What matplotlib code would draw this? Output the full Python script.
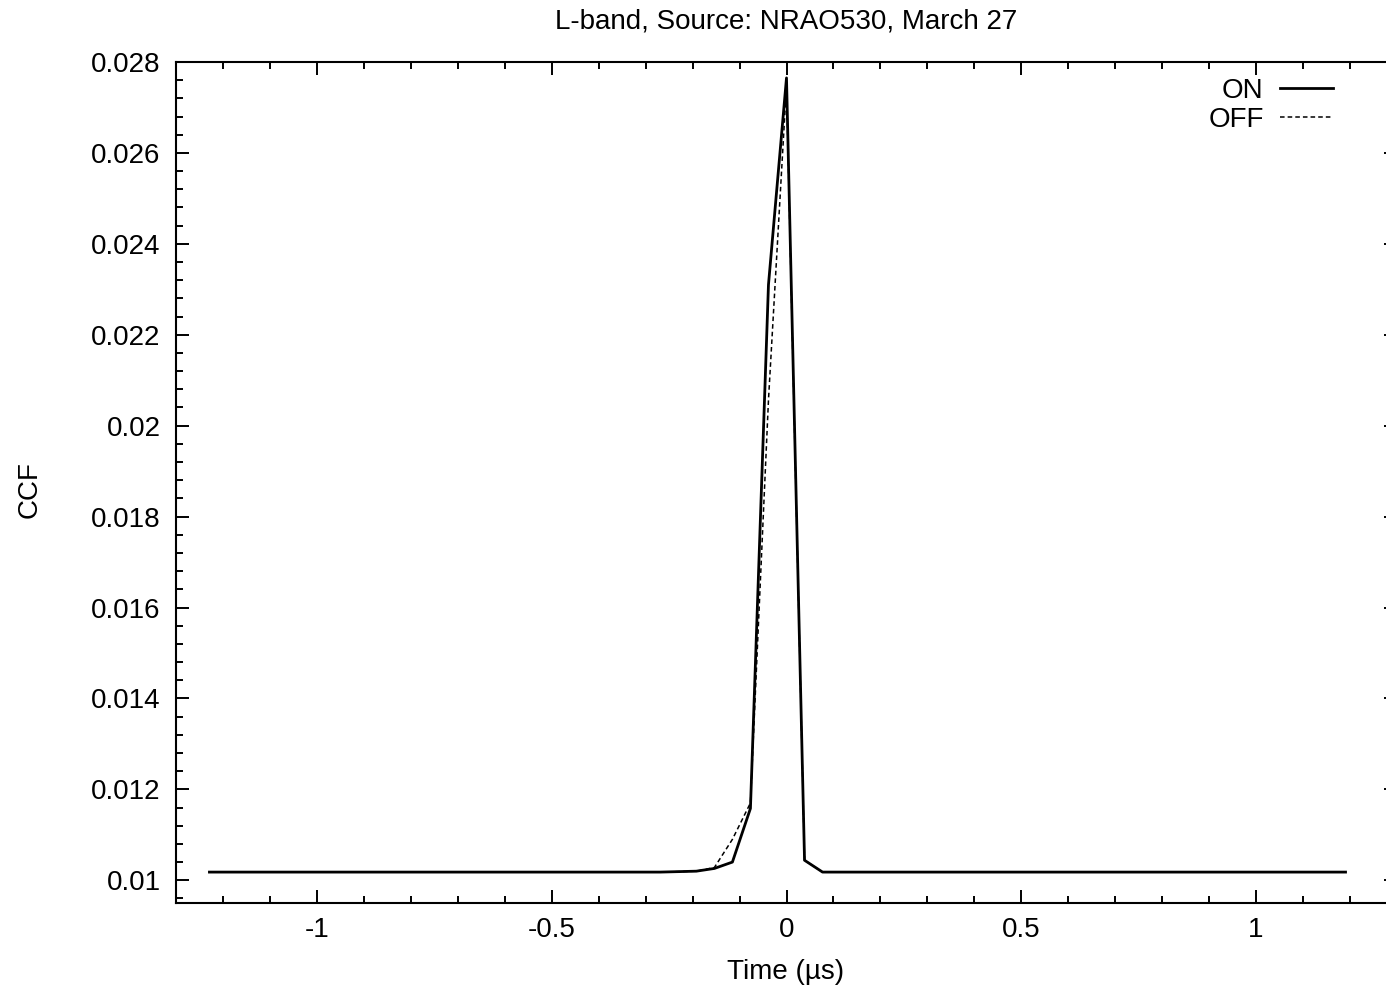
import numpy as np
import matplotlib
matplotlib.use("Agg")
import matplotlib.pyplot as plt
from matplotlib.ticker import MultipleLocator

plt.rcParams['font.family'] = ['Liberation Sans', 'DejaVu Sans']

# Lag index (64 lags) and lag step in microseconds
lag_index = np.arange(-32, 32)
lag_step_us = 0.0384

on_ccf = [
    0.01018, 0.01018, 0.01018, 0.01018, 0.01018, 0.01018, 0.01018, 0.01018,
    0.01018, 0.01018, 0.01018, 0.01018, 0.01018, 0.01018, 0.01018, 0.01018,
    0.01018, 0.01018, 0.01018, 0.01018, 0.01018, 0.01018, 0.01018, 0.01018,
    0.01018, 0.01018, 0.01019, 0.01020, 0.01026, 0.01040, 0.01158, 0.02310,
    0.02765, 0.01044, 0.01018, 0.01018, 0.01018, 0.01018, 0.01018, 0.01018,
    0.01018, 0.01018, 0.01018, 0.01018, 0.01018, 0.01018, 0.01018, 0.01018,
    0.01018, 0.01018, 0.01018, 0.01018, 0.01018, 0.01018, 0.01018, 0.01018,
    0.01018, 0.01018, 0.01018, 0.01018, 0.01018, 0.01018, 0.01018, 0.01018,
]
off_ccf = [
    0.01018, 0.01018, 0.01018, 0.01018, 0.01018, 0.01018, 0.01018, 0.01018,
    0.01018, 0.01018, 0.01018, 0.01018, 0.01018, 0.01018, 0.01018, 0.01018,
    0.01018, 0.01018, 0.01018, 0.01018, 0.01018, 0.01018, 0.01018, 0.01018,
    0.01018, 0.01018, 0.01019, 0.01020, 0.01028, 0.01090, 0.01170, 0.02056,
    0.02750, 0.01044, 0.01018, 0.01018, 0.01018, 0.01018, 0.01018, 0.01018,
    0.01018, 0.01018, 0.01018, 0.01018, 0.01018, 0.01018, 0.01018, 0.01018,
    0.01018, 0.01018, 0.01018, 0.01018, 0.01018, 0.01018, 0.01018, 0.01018,
    0.01018, 0.01018, 0.01018, 0.01018, 0.01018, 0.01018, 0.01018, 0.01018,
]

title = "L-band, Source: NRAO530, March 27"
xlabel = "Time (\u00b5s)"
ylabel = "CCF"

time_us = lag_index * lag_step_us

W, H = 1386, 991
fig = plt.figure(figsize=(W / 100, H / 100), dpi=100)
ax = fig.add_axes([176 / W, 1 - 903 / H, (1397 - 176) / W, (903 - 62) / H])

fs = 20
ax.plot(time_us, on_ccf, color='black', lw=2.0, label='ON', zorder=3)
ax.plot(time_us, off_ccf, color='black', lw=1.1, ls=(0, (3, 2)), label='OFF', zorder=2)

ax.set_xlim(-1.3, 1.3)
ax.set_ylim(0.0095, 0.028)
ax.xaxis.set_major_locator(MultipleLocator(0.5))
ax.xaxis.set_minor_locator(MultipleLocator(0.1))
ax.yaxis.set_major_locator(MultipleLocator(0.002))
ax.yaxis.set_minor_locator(MultipleLocator(0.0004))
ax.xaxis.set_major_formatter(plt.FuncFormatter(lambda v, p: ('%g' % v)))
ax.yaxis.set_major_formatter(plt.FuncFormatter(lambda v, p: ('%g' % round(v, 6))))

ax.tick_params(which='both', direction='in', top=True, right=True, width=1.4, labelsize=fs)
ax.tick_params(which='major', length=9.4)
ax.tick_params(which='minor', length=4.7)
ax.tick_params(axis='y', which='major', pad=11)
ax.tick_params(axis='x', which='major', pad=10)
for s in ax.spines.values():
    s.set_linewidth(1.5)

fig.text(786 / W, 1 - 21 / H, title, ha='center', va='center', fontsize=fs)
fig.text(786 / W, 1 - 972 / H, xlabel, ha='center', va='center', fontsize=fs)
fig.text(30 / W, 1 - 490 / H, ylabel, ha='center', va='center', rotation=90, fontsize=fs)

leg = ax.legend(loc='upper right', bbox_to_anchor=(1333 / W, 1 - 78 / H),
                bbox_transform=fig.transFigure, frameon=False, markerfirst=False,
                fontsize=fs, handlelength=1.9, handletextpad=0.6, labelspacing=0.1,
                borderpad=0, borderaxespad=0)

fig.savefig('out.png', dpi=100)
